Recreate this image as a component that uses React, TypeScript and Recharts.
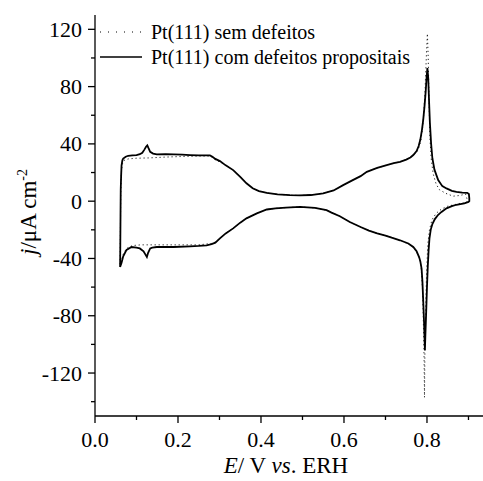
import React from 'react';
import { LineChart, Line, XAxis, YAxis } from 'recharts';

// potential (V vs. ERH) and current density (uA cm-2)
const solidUpE = [
  0.0605, 0.061, 0.0615, 0.062, 0.063, 0.064, 0.066, 0.068, 0.074, 0.08, 0.09, 0.1, 0.108, 0.114,
  0.119, 0.123, 0.126, 0.129, 0.133, 0.14, 0.149, 0.17, 0.19, 0.21, 0.229, 0.25, 0.265, 0.277,
  0.283, 0.29, 0.301, 0.315, 0.333, 0.35, 0.365, 0.38, 0.395, 0.414, 0.44, 0.47, 0.494, 0.52,
  0.55, 0.575, 0.598, 0.62, 0.64, 0.655, 0.68, 0.703, 0.72, 0.735, 0.75, 0.76, 0.767, 0.775,
  0.78, 0.784, 0.788, 0.791, 0.794, 0.797, 0.799, 0.801, 0.803, 0.805, 0.807, 0.81, 0.813,
  0.818, 0.827, 0.837, 0.847, 0.86, 0.871, 0.885, 0.897, 0.901, 0.902, 0.902,
];
const solidUpJ = [
  -46, -30, -10, 8, 18, 25, 28.5, 29.8, 31, 31.7, 32, 32.2, 32.8, 33.8, 36, 38, 39, 37, 34.5,
  33.2, 32.7, 32.8, 32.7, 32.5, 32.2, 32, 32, 32, 31, 29.5, 28, 25, 21.7, 17, 12.5, 9, 7, 5.8,
  4.8, 4.2, 4, 4.3, 5.4, 7.5, 11.2, 14.5, 17.5, 20.5, 23.2, 25.2, 26.5, 27.5, 29, 30.5, 32.2,
  35, 38.5, 43, 50, 57, 66, 77, 86, 93, 86, 70, 55, 40, 30, 22, 14.7, 10.5, 8.9, 7.2, 6.5, 6,
  5.8, 5, 2, 0,
];
const solidDownE = [
  0.9, 0.89, 0.871, 0.86, 0.847, 0.835, 0.827, 0.819, 0.813, 0.809, 0.806, 0.804, 0.802, 0.8,
  0.798, 0.796, 0.795, 0.793, 0.791, 0.789, 0.787, 0.784, 0.781, 0.775, 0.767, 0.755, 0.735,
  0.715, 0.7, 0.68, 0.66, 0.64, 0.614, 0.59, 0.57, 0.558, 0.53, 0.494, 0.46, 0.435, 0.414,
  0.39, 0.365, 0.35, 0.333, 0.315, 0.301, 0.29, 0.281, 0.269, 0.25, 0.229, 0.189, 0.149, 0.138,
  0.133, 0.128, 0.125, 0.122, 0.117, 0.108, 0.1, 0.088, 0.076, 0.068, 0.064, 0.0605,
];
const solidDownJ = [
  -0.5, -1.5, -2.5, -3.5, -5, -7.5, -9.5, -12.5, -16, -20, -26, -34, -45, -60, -78, -95, -104,
  -85, -70, -56, -47, -42, -39, -35, -32, -29.5, -27.3, -25.5, -24, -22.5, -20.5, -18, -14.5,
  -10.5, -8, -6.3, -4.7, -4, -4.5, -5, -5.8, -8.5, -12, -15, -19, -22.5, -26, -29, -30, -30.8,
  -31.2, -31.5, -32, -32, -32.5, -33, -36, -39, -37.5, -35, -33, -32.5, -32, -34, -38.5, -43,
  -46,
];

const dottedUpE = [
  0.0605, 0.061, 0.062, 0.063, 0.064, 0.066, 0.07, 0.08, 0.1, 0.13, 0.17, 0.21, 0.25, 0.277,
  0.283, 0.29, 0.301, 0.315, 0.333, 0.35, 0.365, 0.38, 0.395, 0.414, 0.44, 0.47, 0.494, 0.52,
  0.55, 0.575, 0.598, 0.62, 0.64, 0.655, 0.68, 0.703, 0.72, 0.735, 0.75, 0.76, 0.767, 0.775,
  0.78, 0.785, 0.789, 0.792, 0.795, 0.797, 0.799, 0.801, 0.803, 0.805, 0.807, 0.81, 0.815,
  0.822, 0.83, 0.845, 0.863, 0.88, 0.893, 0.896, 0.896,
];
const dottedUpJ = [
  -44, -28, 5, 15, 22, 26, 28.5, 29.5, 30, 30.2, 30.8, 31.2, 31.5, 31.5, 30.5, 28.8, 27.5, 25,
  21.7, 17, 12.5, 9, 7, 5.8, 4.8, 4.2, 4, 4.3, 5.4, 7.5, 11.2, 14.5, 17.5, 20.5, 23.2, 25.2,
  26.5, 27.5, 29, 30.5, 32, 34, 37, 42, 50, 60, 75, 90, 105, 117, 100, 70, 45, 30, 19, 12, 8,
  5.5, 3.5, 4, 5, 2, -1,
];
const dottedDownE = [
  0.88, 0.865, 0.85, 0.835, 0.822, 0.812, 0.806, 0.802, 0.799, 0.797, 0.795, 0.794, 0.793,
  0.791, 0.789, 0.786, 0.783, 0.778, 0.77, 0.76, 0.735, 0.715, 0.7, 0.68, 0.66, 0.64, 0.614,
  0.59, 0.57, 0.558, 0.53, 0.494, 0.46, 0.435, 0.414, 0.39, 0.365, 0.35, 0.333, 0.315, 0.301,
  0.29, 0.281, 0.25, 0.2, 0.15, 0.11, 0.09, 0.076, 0.068, 0.064, 0.0605,
];
const dottedDownJ = [
  -1.5, -2.5, -3.5, -5.5, -8.5, -13, -20, -30, -50, -75, -105, -137, -110, -80, -60, -47, -41,
  -37, -33.5, -30.5, -27.3, -25.5, -24, -22.5, -20.5, -18, -14.5, -10.5, -8, -6.3, -4.7, -4,
  -4.5, -5, -5.8, -8.5, -12, -15, -19, -22.5, -26, -28.5, -29.5, -30.5, -30.5, -30.5, -30.5,
  -31, -33, -37, -41, -44,
];

const seriesNames = ['Pt(111) sem defeitos', 'Pt(111) com defeitos propositais'];
const xTicks = [0, 0.1, 0.2, 0.3, 0.4, 0.5, 0.6, 0.7, 0.8, 0.9];
const yTicks = [-140, -120, -100, -80, -60, -40, -20, 0, 20, 40, 60, 80, 100, 120];

const loop = (upE: number[], upJ: number[], downE: number[], downJ: number[]) => [
  ...upE.map((E, i) => ({ E, j: upJ[i] })),
  ...downE.map((E, i) => ({ E, j: downJ[i] })),
];

const solidData = loop(solidUpE, solidUpJ, solidDownE, solidDownJ);
const dottedData = loop(dottedUpE, dottedUpJ, dottedDownE, dottedDownJ);

const FONT = '"Liberation Serif", serif';

function XTick(props: any) {
  const { x, y, payload } = props;
  const v = payload.value as number;
  const major = Math.round(v * 10) % 2 === 0;
  return (
    <g>
      <line x1={x} x2={x} y1={y} y2={y + (major ? 7 : 4)} stroke="#000" strokeWidth={1.3} />
      {major && (
        <text x={x} y={y + 31} textAnchor="middle" fontFamily={FONT} fontSize={22} fill="#000">
          {v.toFixed(1)}
        </text>
      )}
    </g>
  );
}

function YTick(props: any) {
  const { x, y, payload } = props;
  const v = payload.value as number;
  const major = Math.round(v) % 40 === 0;
  return (
    <g>
      <line x1={x - (major ? 7 : 4)} x2={x} y1={y} y2={y} stroke="#000" strokeWidth={1.3} />
      {major && (
        <text x={x - 13} y={y + 7.5} textAnchor="end" fontFamily={FONT} fontSize={22} fill="#000">
          {v}
        </text>
      )}
    </g>
  );
}

export default function App() {
  return (
    <div style={{ position: 'absolute', left: 0, top: 0, width: 483, height: 481, background: '#fff' }}>
      <LineChart
        width={483}
        height={481}
        margin={{ top: 15, right: 0, left: 0, bottom: 0 }}
      >
        <XAxis
          type="number"
          dataKey="E"
          domain={[0, 0.935]}
          allowDataOverflow
          ticks={xTicks}
          interval={0}
          height={65}
          tickSize={0}
          tickMargin={0}
          tickLine={false}
          axisLine={{ stroke: '#000', strokeWidth: 1.3 }}
          tick={XTick}
        />
        <YAxis
          type="number"
          dataKey="j"
          domain={[-150, 130]}
          allowDataOverflow
          ticks={yTicks}
          interval={0}
          width={95}
          tickSize={0}
          tickMargin={0}
          tickLine={false}
          axisLine={{ stroke: '#000', strokeWidth: 1.3 }}
          tick={YTick}
        />
        <Line
          data={dottedData}
          dataKey="j"
          name={seriesNames[0]}
          type="linear"
          stroke="#222"
          strokeWidth={1}
          strokeDasharray="1.2 2.8"
          dot={false}
          activeDot={false}
          isAnimationActive={false}
        />
        <Line
          data={solidData}
          dataKey="j"
          name={seriesNames[1]}
          type="linear"
          stroke="#000"
          strokeWidth={1.8}
          dot={false}
          activeDot={false}
          isAnimationActive={false}
        />
      </LineChart>

      {/* axis titles and legend */}
      <svg
        width={483}
        height={481}
        style={{ position: 'absolute', left: 0, top: 0, pointerEvents: 'none' }}
        fontFamily={FONT}
        fill="#000"
      >
        <text x={286} y={473} textAnchor="middle" fontSize={23}>
          <tspan fontStyle="italic">E</tspan>
          <tspan>/ V </tspan>
          <tspan fontStyle="italic">vs</tspan>
          <tspan>. ERH</tspan>
        </text>
        <text transform="translate(29, 212) rotate(-90)" y={7} textAnchor="middle" fontSize={23}>
          <tspan fontStyle="italic">j</tspan>
          <tspan>/μA cm</tspan>
          <tspan dy={-9} fontSize={14}>-2</tspan>
        </text>

        {seriesNames.map((name, i) => (
          <g key={name}>
            <line
              x1={100}
              x2={142}
              y1={32 + i * 25}
              y2={32 + i * 25}
              stroke="#000"
              strokeWidth={i === 0 ? 1 : 1.6}
              strokeDasharray={i === 0 ? '1 7' : undefined}
            />
            <text x={151} y={38.5 + i * 25} fontSize={20}>
              {name}
            </text>
          </g>
        ))}
      </svg>
    </div>
  );
}
